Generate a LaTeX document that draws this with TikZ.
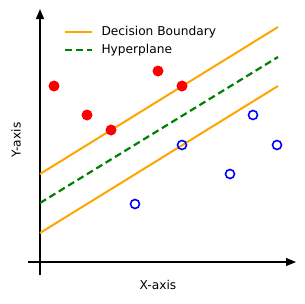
\documentclass[tikz,border=0pt]{standalone}
\usepackage{fontspec}
\setmainfont{DejaVu Sans}
\usepackage{xcolor}
\definecolor{svmorange}{RGB}{255,165,0}
\definecolor{svmgreen}{RGB}{0,128,0}
\definecolor{svmred}{RGB}{255,0,0}
\definecolor{svmblue}{RGB}{0,0,255}
\usetikzlibrary{arrows.meta,positioning,calc}
\tikzset{
  axis/.style={-{Triangle[length=10pt,width=8pt]},line width=1.3pt,draw=black},
  bound/.style={line width=2pt,draw=svmorange},
  hyper/.style={line width=2.2pt,draw=svmgreen,dash pattern=on 7pt off 4pt},
  posdot/.style={circle,fill=svmred,inner sep=0pt,minimum size=11pt},
  negdot/.style={circle,draw=svmblue,line width=1.6pt,inner sep=0pt,minimum size=9pt},
  lab/.style={font=\fontsize{12.2}{14}\selectfont,text=black},
}

\begin{document}
\begin{tikzpicture}[x=1pt,y=-1pt]
    \useasboundingbox (0,0) rectangle (305,303);
    % axes
    \coordinate (ybot) at (40,275); \coordinate (ytop) at (40,9);
    \coordinate (xleft) at (28,262); \coordinate (xright) at (296,262);
    \draw[axis] (ybot)--(ytop);
    \draw[axis] (xleft)--(xright);
    \node[lab] (xlab) at (158,285) {X-axis};
    \node[lab,rotate=90] (ylab) at (16,140) {Y-axis};
    % margins and hyperplane
    \coordinate (u0) at (40,174); \coordinate (u1) at (278,27);
    \coordinate (h0) at (40,203); \coordinate (h1) at (278,57);
    \coordinate (l0) at (40,233); \coordinate (l1) at (278,86);
    \draw[bound] (u0)--(u1);
    \draw[hyper] (h0)--(h1);
    \draw[bound] (l0)--(l1);
    % class +1
    \node[posdot] (p1) at (54,86) {};
    \node[posdot] (p2) at (87,115) {};
    \node[posdot] (p3) at (111,130) {};
    \node[posdot] (p4) at (158,71) {};
    \node[posdot] (p5) at (182,86) {};
    % class -1
    \node[negdot] (n1) at (182,145) {};
    \node[negdot] (n2) at (253,115) {};
    \node[negdot] (n3) at (277,145) {};
    \node[negdot] (n4) at (135,204) {};
    \node[negdot] (n5) at (230,174) {};
    % legend
    \coordinate (k1a) at (65,32); \coordinate (k1b) at (92,32);
    \coordinate (k2a) at (65,50); \coordinate (k2b) at (92,50);
    \draw[bound] (k1a)--(k1b);
    \draw[hyper] (k2a)--(k2b);
    \node[lab,anchor=west] (t1) at (98,32) {Decision Boundary};
    \node[lab,anchor=west] (t2) at (98,50) {Hyperplane};
  \end{tikzpicture}
\end{document}
